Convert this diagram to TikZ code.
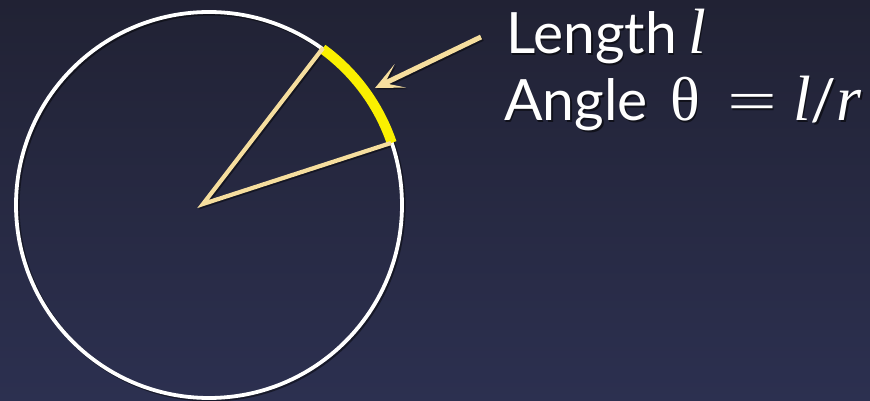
\documentclass[tikz,border=0pt]{standalone}
\usepackage{fontspec}
\setmainfont{Lato}
\newfontfamily\itfont{Liberation Serif Italic}
\newfontfamily\grfont{Liberation Serif}
\usetikzlibrary{arrows.meta}
\definecolor{bgtop}{RGB}{33,34,52}
\definecolor{bgbot}{RGB}{44,48,80}
\definecolor{paleyel}{RGB}{246,222,158}
\definecolor{arcyel}{RGB}{250,240,0}
\newcommand{\bigit}[1]{{\fontsize{64}{70}\selectfont\itfont #1}}
\newcommand{\lineone}{Length\hspace{11pt}\bigit{l}}
\newcommand{\linetwo}{\makebox[166pt][l]{Angle}\makebox[57pt][l]{\fontsize{62}{70}\selectfont\grfont θ}\makebox[66pt][l]{\scalebox{1.55}[1]{\grfont =}}\bigit{l}/\bigit{r}}
\tikzset{
  radius line/.style={draw=paleyel, line width=4.2, line cap=butt},
  circ line/.style={draw=white, line width=3.8},
  shadowline/.style={draw=black, opacity=0.45, line width=4.2},
  label text/.style={font=\fontsize{57}{66}\selectfont, text=white, inner sep=0pt, anchor=base west},
  shadow text/.style={font=\fontsize{57}{66}\selectfont, text=black, opacity=0.55, inner sep=0pt, anchor=base west},
  arrowtip/.style={-{Stealth[length=28,width=26,inset=17]}},
}
\begin{document}
\begin{tikzpicture}[x=1pt,y=1pt]
\useasboundingbox (0,0) rectangle (870,401);
\shade[top color=bgtop, bottom color=bgbot] (0,0) rectangle (870,401);
% coordinates
\coordinate (c) at (209,196);
\coordinate (v) at (203,197);
\coordinate (a) at (323,353);
\coordinate (b) at (391,258);
\coordinate (tail) at (481,364);
\coordinate (tip) at (375,313);
% shadows
\draw[shadowline] ([shift={(1.5,-1.5)}]c) circle (193);
\draw[shadowline, line join=miter] ([shift={(1.5,-1.5)}]a) -- ([shift={(1.5,-1.5)}]v) -- ([shift={(1.5,-1.5)}]b);
% circle
\draw[circ line] (c) circle (193);
% yellow arc
\draw[arcyel, line width=10] ([shift={(18.8:193)}]c) arc (18.8:54:193);
% radius lines
\draw[radius line, line join=miter] (a) -- (v) -- (b);
% arrow
\draw[draw=black, opacity=0.45, line width=5, arrowtip] ([shift={(1.5,-1.5)}]tail) -- ([shift={(1.5,-1.5)}]tip);
\draw[draw=paleyel, line width=5, arrowtip] (tail) -- (tip);
% labels
\node[shadow text] at (507.5,345.5) {\lineone};
\node[shadow text] at (505.5,278.5) {\linetwo};
\node[label text] (len) at (506,347) {\lineone};
\node[label text] (ang) at (504,280) {\linetwo};
\end{tikzpicture}
\end{document}
